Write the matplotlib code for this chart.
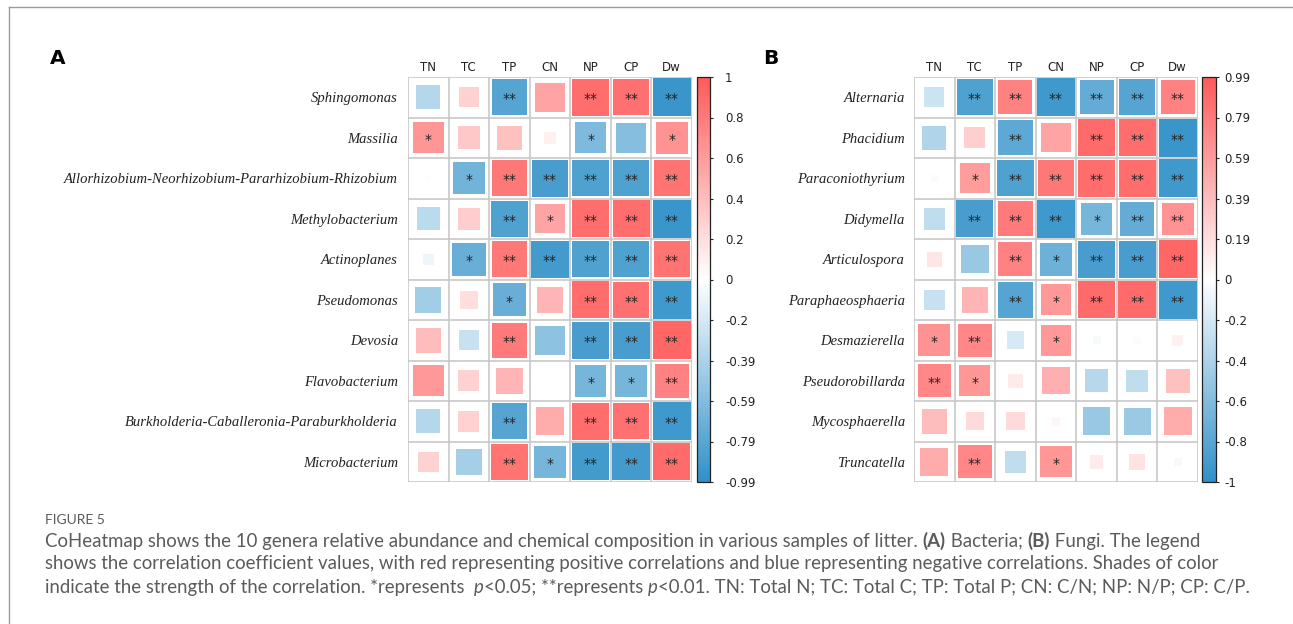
import matplotlib
matplotlib.use("Agg")
import matplotlib.pyplot as plt
import numpy as np
from matplotlib.colors import LinearSegmentedColormap, Normalize
from matplotlib.patches import Rectangle
from matplotlib.transforms import IdentityTransform
import matplotlib.cm as cm

# ---------------- data ----------------
cols = ["TN", "TC", "TP", "CN", "NP", "CP", "Dw"]

rows_a = ["Sphingomonas", "Massilia", "Allorhizobium-Neorhizobium-Pararhizobium-Rhizobium",
          "Methylobacterium", "Actinoplanes", "Pseudomonas", "Devosia", "Flavobacterium",
          "Burkholderia-Caballeronia-Paraburkholderia", "Microbacterium"]
r_a = [
    [-0.36, 0.27, -0.82, 0.55, 0.88, 0.86, -0.95],
    [0.64, 0.33, 0.38, 0.09, -0.62, -0.58, 0.65],
    [0.02, -0.68, 0.82, -0.88, -0.85, -0.85, 0.85],
    [-0.33, 0.30, -0.85, 0.55, 0.88, 0.88, -0.95],
    [-0.08, -0.72, 0.82, -0.90, -0.85, -0.85, 0.85],
    [-0.45, 0.20, -0.72, 0.45, 0.88, 0.86, -0.92],
    [0.40, -0.27, 0.80, -0.55, -0.88, -0.88, 0.92],
    [0.62, 0.28, 0.45, 0.00, -0.65, -0.65, 0.75],
    [-0.36, 0.28, -0.82, 0.50, 0.88, 0.86, -0.92],
    [0.27, -0.43, 0.85, -0.65, -0.90, -0.90, 0.90],
]
sig_a = [
    ["", "", "**", "", "**", "**", "**"],
    ["*", "", "", "", "*", "", "*"],
    ["", "*", "**", "**", "**", "**", "**"],
    ["", "", "**", "*", "**", "**", "**"],
    ["", "*", "**", "**", "**", "**", "**"],
    ["", "", "*", "", "**", "**", "**"],
    ["", "", "**", "", "**", "**", "**"],
    ["", "", "", "", "*", "*", "**"],
    ["", "", "**", "", "**", "**", "**"],
    ["", "", "**", "*", "**", "**", "**"],
]
cbar_labels_a = ["1", "0.8", "0.6", "0.4", "0.2", "0", "-0.2", "-0.39", "-0.59", "-0.79", "-0.99"]

rows_b = ["Alternaria", "Phacidium", "Paraconiothyrium", "Didymella", "Articulospora",
          "Paraphaeosphaeria", "Desmazierella", "Pseudorobillarda", "Mycosphaerella", "Truncatella"]
r_b = [
    [-0.25, -0.85, 0.75, -0.92, -0.75, -0.82, 0.75],
    [-0.38, 0.29, -0.78, 0.55, 0.90, 0.88, -0.95],
    [-0.03, 0.60, -0.85, 0.82, 0.88, 0.88, -0.92],
    [-0.30, -0.88, 0.80, -0.92, -0.65, -0.75, 0.65],
    [0.15, -0.50, 0.75, -0.70, -0.88, -0.88, 0.92],
    [-0.27, 0.45, -0.82, 0.62, 0.90, 0.90, -0.92],
    [0.65, 0.72, -0.20, 0.62, -0.04, 0.03, 0.08],
    [0.72, 0.63, 0.13, 0.48, -0.35, -0.30, 0.38],
    [0.40, 0.22, 0.22, 0.05, -0.50, -0.48, 0.50],
    [0.50, 0.72, -0.30, 0.63, 0.12, 0.17, -0.04],
]
sig_b = [
    ["", "**", "**", "**", "**", "**", "**"],
    ["", "", "**", "", "**", "**", "**"],
    ["", "*", "**", "**", "**", "**", "**"],
    ["", "**", "**", "**", "*", "**", "**"],
    ["", "", "**", "*", "**", "**", "**"],
    ["", "", "**", "*", "**", "**", "**"],
    ["*", "**", "", "*", "", "", ""],
    ["**", "*", "", "", "", "", ""],
    ["", "", "", "", "", "", ""],
    ["", "**", "", "*", "", "", ""],
]
cbar_labels_b = ["0.99", "0.79", "0.59", "0.39", "0.19", "0", "-0.2", "-0.4", "-0.6", "-0.8", "-1"]

caption_title = "FIGURE 5"
caption_lines = [
    [("CoHeatmap shows the 10 genera relative abundance and chemical composition in various samples of litter. ", "n"),
     ("(A)", "b"), (" Bacteria; ", "n"), ("(B)", "b"), (" Fungi. The legend", "n")],
    [("shows the correlation coefficient values, with red representing positive correlations and blue representing negative correlations. Shades of color", "n")],
    [("indicate the strength of the correlation. *represents  ", "n"), ("p", "i"), ("<0.05; **represents ", "n"),
     ("p", "i"), ("<0.01. TN: Total N; TC: Total C; TP: Total P; CN: C/N; NP: N/P; CP: C/P.", "n")],
]
caption_right_px = [1247, 1250, 1246]

# ---------------- figure ----------------
W, H = 1293, 624
DPI = 100
fig = plt.figure(figsize=(W / DPI, H / DPI), dpi=DPI)
fig.patch.set_facecolor("white")

cmap = LinearSegmentedColormap.from_list("bwr_custom", ["#3090C8", "#FFFFFF", "#FF5A5A"])
norm = Normalize(-1, 1)


def px_rect(x0, y0, x1, y1):
    return [x0 / W, 1 - y1 / H, (x1 - x0) / W, (y1 - y0) / H]


def draw_panel(rect, cbar_rect, rows, vals, sigs, cbar_labels, label_pad_px, cbar_pad_px):
    ax = fig.add_axes(px_rect(*rect))
    vals = np.asarray(vals)
    nr, nc = vals.shape
    ax.set_xlim(0, nc)
    ax.set_ylim(nr, 0)
    for i in range(nr):
        for j in range(nc):
            v = vals[i, j]
            s = np.sqrt(abs(v)) * 0.97
            if s > 0:
                ax.add_patch(Rectangle((j + 0.5 - s / 2, i + 0.5 - s / 2), s, s,
                                       facecolor=cmap(norm(v)), edgecolor="none", zorder=1))
            if sigs[i][j]:
                ax.text(j + 0.5, i + 0.55, sigs[i][j], ha="center", va="center",
                        fontsize=10, color="#222222", family="DejaVu Sans", zorder=3)
    for k in range(nr + 1):
        ax.axhline(k, color="#C8C8C8", lw=1.2, zorder=2)
    for k in range(nc + 1):
        ax.axvline(k, color="#C8C8C8", lw=1.2, zorder=2)
    for sp in ax.spines.values():
        sp.set_visible(False)
    ax.set_xticks(np.arange(nc) + 0.5)
    ax.set_xticklabels(cols, fontsize=8.5, family="DejaVu Sans", color="#222222")
    ax.xaxis.tick_top()
    ax.tick_params(axis="x", length=0, pad=2)
    ax.set_yticks(np.arange(nr) + 0.5)
    ax.set_yticklabels(rows, fontsize=10.5, family="Liberation Serif", style="italic", color="#222222")
    ax.tick_params(axis="y", length=0, pad=label_pad_px * 72 / DPI)

    cax = fig.add_axes(px_rect(*cbar_rect))
    sm = cm.ScalarMappable(norm=norm, cmap=cmap)
    cb = fig.colorbar(sm, cax=cax)
    ticks = np.linspace(1, -1, len(cbar_labels))
    cb.set_ticks(ticks)
    cb.set_ticklabels(cbar_labels)
    cb.outline.set_linewidth(0.9)
    cb.outline.set_edgecolor("#222222")
    cax.tick_params(length=3 * 72 / DPI, width=0.8, pad=cbar_pad_px * 72 / DPI,
                    labelsize=8.5, colors="#222222")
    for t in cax.get_yticklabels():
        t.set_family("DejaVu Sans")
    return ax


draw_panel((408, 77, 692, 482), (697, 77, 710, 482), rows_a, r_a, sig_a, cbar_labels_a, 10, 12)
draw_panel((914, 77, 1198, 482), (1202, 77, 1216, 482), rows_b, r_b, sig_b, cbar_labels_b, 9, 5)

fig.text(50 / W, 1 - 58 / H, "A", fontsize=14.5, fontweight="bold", family="DejaVu Sans",
         ha="left", va="center", color="black")
fig.text(763 / W, 1 - 58 / H, "B", fontsize=14.5, fontweight="bold", family="DejaVu Sans",
         ha="left", va="center", color="black")

# frame lines (top and left)
fig.add_artist(plt.Line2D([9 / W, 1.0], [1 - 7 / H, 1 - 7 / H], transform=fig.transFigure,
                          color="#9a9a9a", lw=1.0))
fig.add_artist(plt.Line2D([9 / W, 9 / W], [1 - 7 / H, 0], transform=fig.transFigure,
                          color="#9a9a9a", lw=1.0))

# caption
CAP_COLOR = "#5b5b5b"
CAP_FONT = "Lato"
renderer = fig.canvas.get_renderer()


def text_width(s, size, weight, style):
    t = fig.text(0, 0, s + "x", fontsize=size, fontweight=weight, fontstyle=style, family=CAP_FONT)
    t2 = fig.text(0, 0, "x", fontsize=size, fontweight=weight, fontstyle=style, family=CAP_FONT)
    w = t.get_window_extent(renderer).width - t2.get_window_extent(renderer).width
    t.remove()
    t2.remove()
    return w


def style_of(code):
    return ("bold" if code == "b" else "normal", "italic" if code == "i" else "normal")


def draw_runs(x, y, runs, size):
    for s, code in runs:
        wgt, sty = style_of(code)
        fig.text(x, H - y, s, fontsize=size, fontweight=wgt, fontstyle=sty, family=CAP_FONT,
                 color=CAP_COLOR, ha="left", va="center", transform=IdentityTransform())
        x += text_width(s, size, wgt, sty)


base = 12.0
scales = []
for line, right in zip(caption_lines, caption_right_px):
    wl = sum(text_width(s, base, *style_of(c)) for s, c in line)
    scales.append((right - 45) / wl)
cap_size = base * min(scales)

fig.text(45, H - 520, caption_title, fontsize=10, family=CAP_FONT, color=CAP_COLOR,
         ha="left", va="center", transform=IdentityTransform())
for k, line in enumerate(caption_lines):
    draw_runs(45, 541 + 23 * k, line, cap_size)

fig.savefig("out.png", dpi=DPI, facecolor="white")
